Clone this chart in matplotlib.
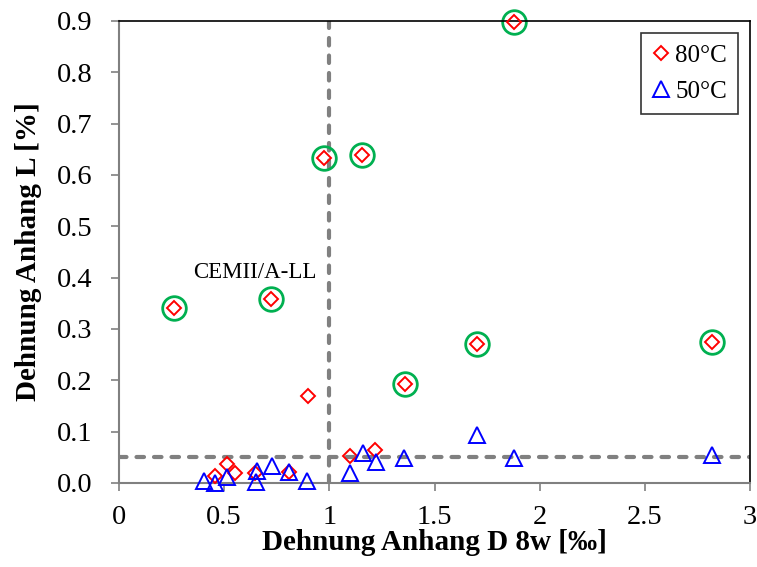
import matplotlib
matplotlib.use("Agg")
import matplotlib.pyplot as plt

plt.rcParams['font.family'] = ['Liberation Serif', 'DejaVu Serif']

# 80°C series (red diamonds)
x80 = [0.262, 0.723, 0.975, 1.155, 1.878, 1.36, 1.70, 2.82, 0.90, 1.098, 1.217,
       0.456, 0.514, 0.552, 0.647, 0.808]
y80 = [0.341, 0.358, 0.633, 0.639, 0.898, 0.193, 0.271, 0.275, 0.169, 0.053, 0.064,
       0.014, 0.037, 0.019, 0.019, 0.021]
# 50°C series (blue triangles)
x50 = [0.404, 0.456, 0.514, 0.656, 0.651, 0.728, 0.808, 0.894, 1.098, 1.16, 1.222,
       1.355, 1.70, 1.878, 2.82]
y50 = [0.004, 0.000, 0.012, 0.023, 0.002, 0.033, 0.021, 0.004, 0.019, 0.058, 0.041,
       0.049, 0.093, 0.049, 0.055]
# highlighted (circled) points
xc = [0.262, 0.723, 0.975, 1.155, 1.878, 1.36, 1.70, 2.82]
yc = [0.341, 0.358, 0.633, 0.639, 0.898, 0.193, 0.271, 0.275]

x_limit = 1.0
y_limit = 0.05

xticks = [0, 0.5, 1, 1.5, 2, 2.5, 3]
xticklabels = ['0', '0.5', '1', '1.5', '2', '2.5', '3']
yticks = [0.0, 0.1, 0.2, 0.3, 0.4, 0.5, 0.6, 0.7, 0.8, 0.9]
yticklabels = ['0.0', '0.1', '0.2', '0.3', '0.4', '0.5', '0.6', '0.7', '0.8', '0.9']

fig = plt.figure(figsize=(7.57, 5.67), dpi=100)
ax = fig.add_axes([119/757, 1-483/567, (750-119)/757, (483-21)/567])

gray = '#808080'
ax.axvline(x_limit, color=gray, lw=3, dashes=(1.8, 2.4), dash_capstyle='round', zorder=1)
ax.axhline(y_limit, color=gray, lw=3, dashes=(1.8, 2.4), dash_capstyle='round', zorder=1)

ax.plot(xc, yc, ls='none', marker='o', ms=17, mfc='none', mec='#00B050', mew=2.0,
        zorder=2, clip_on=False)
ax.plot(x80, y80, ls='none', marker='D', ms=7.5, mfc='none', mec='#FF0000', mew=1.4,
        label='80°C', zorder=3, clip_on=False)
ax.plot(x50, y50, ls='none', marker='^', ms=11.5, mfc='none', mec='#0000FF', mew=1.4,
        label='50°C', zorder=3, clip_on=False)

ax.text(0.647, 0.411, 'CEMII/A-LL', fontsize=16.5, ha='center', va='center')

ax.set_xlim(0, 3)
ax.set_ylim(0, 0.9)
ax.set_xticks(xticks)
ax.set_xticklabels(xticklabels)
ax.set_yticks(yticks)
ax.set_yticklabels(yticklabels)
ax.tick_params(axis='both', direction='out', length=6, width=1.2, color=gray,
               labelsize=20.5)
ax.tick_params(axis='x', pad=9.5)
ax.tick_params(axis='y', pad=13)

for s in ['left', 'bottom']:
    ax.spines[s].set_color(gray)
    ax.spines[s].set_linewidth(1.5)
for s in ['top', 'right']:
    ax.spines[s].set_color('black')
    ax.spines[s].set_linewidth(1.2)

ax.set_xlabel('Dehnung Anhang D 8w [‰]', fontsize=21, fontweight='bold')
ax.set_ylabel('Dehnung Anhang L [%]', fontsize=21, fontweight='bold')
ax.xaxis.set_label_coords(0.5, -0.1)
ax.yaxis.set_label_coords(-0.122, 0.5)

leg = ax.legend(loc='upper right', bbox_to_anchor=(0.981, 0.974), borderaxespad=0,
                fontsize=18, frameon=True, fancybox=False, edgecolor='black',
                handlelength=0.7, handletextpad=0.2, labelspacing=0.55,
                borderpad=0.45, numpoints=1)
leg.get_frame().set_linewidth(1.2)

fig.savefig('out.png', dpi=100)
